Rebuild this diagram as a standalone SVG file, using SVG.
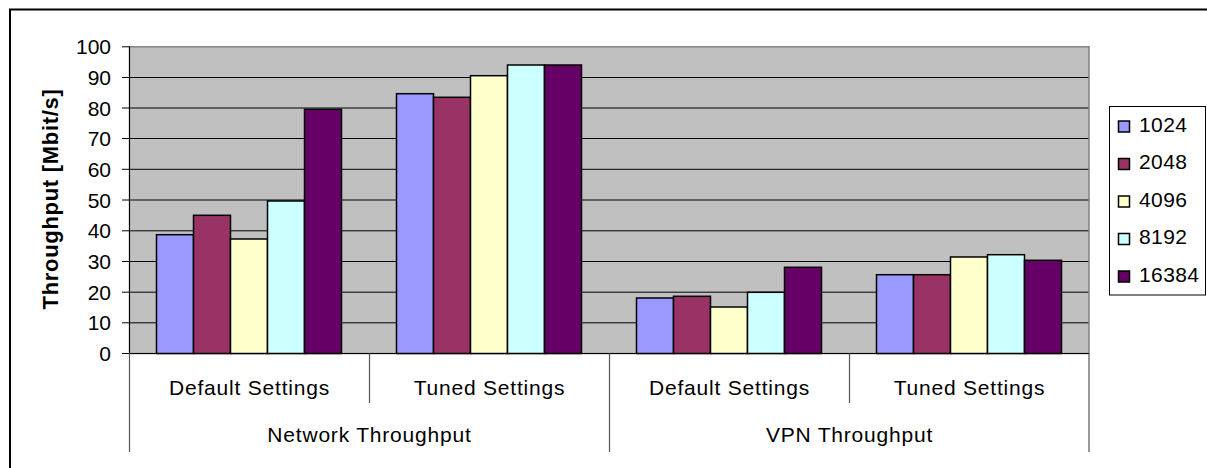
<svg xmlns="http://www.w3.org/2000/svg" width="1207" height="468" viewBox="0 0 1207 468">
<style>
text{font-family:"Liberation Sans",Arial,sans-serif;fill:#000}
.num{font-size:21px;text-anchor:end}
.cat{font-size:21px;text-anchor:middle;letter-spacing:0.8px}
.leg{font-size:21px;letter-spacing:0.4px}
.title{font-size:22px;font-weight:bold;text-anchor:middle;letter-spacing:0.7px}
.grid{stroke:#000;stroke-width:1}
.bar{stroke:#000;stroke-width:1.5}
.s1{fill:#9999FF}.s2{fill:#993366}.s3{fill:#FFFFCC}.s4{fill:#CCFFFF}.s5{fill:#660066}
.sep{stroke:#555;stroke-width:1.2}
</style>
<rect x="0" y="0" width="1207" height="468" fill="#fff"/>
<rect x="10" y="9.5" width="1210" height="480" fill="none" stroke="#000" stroke-width="2"/>
<g id="plot">
<rect x="129.5" y="46.8" width="959.5" height="306.7" fill="#C0C0C0"/>
<g class="grid">
<line x1="129.5" y1="77.5" x2="1089" y2="77.5"/>
<line x1="129.5" y1="108" x2="1089" y2="108"/>
<line x1="129.5" y1="138.5" x2="1089" y2="138.5"/>
<line x1="129.5" y1="169.3" x2="1089" y2="169.3"/>
<line x1="129.5" y1="200" x2="1089" y2="200"/>
<line x1="129.5" y1="230.8" x2="1089" y2="230.8"/>
<line x1="129.5" y1="261.5" x2="1089" y2="261.5"/>
<line x1="129.5" y1="292.2" x2="1089" y2="292.2"/>
<line x1="129.5" y1="322.8" x2="1089" y2="322.8"/>
</g>
<rect x="129.5" y="46.8" width="959.5" height="306.7" fill="none" stroke="#808080" stroke-width="1.5"/>
</g>
<g id="bars">
<rect class="bar s1" x="156.5" y="234.7" width="37" height="118.8"/>
<rect class="bar s2" x="193.5" y="215.3" width="37" height="138.2"/>
<rect class="bar s3" x="230.5" y="239" width="37" height="114.5"/>
<rect class="bar s4" x="267.5" y="201" width="37" height="152.5"/>
<rect class="bar s5" x="304.5" y="109.3" width="37" height="244.2"/>
<rect class="bar s1" x="396.5" y="93.7" width="37" height="259.8"/>
<rect class="bar s2" x="433.5" y="97.3" width="37" height="256.2"/>
<rect class="bar s3" x="470.5" y="75.7" width="37" height="277.8"/>
<rect class="bar s4" x="507.5" y="65" width="37" height="288.5"/>
<rect class="bar s5" x="544.5" y="65" width="37" height="288.5"/>
<rect class="bar s1" x="636.5" y="298" width="37" height="55.5"/>
<rect class="bar s2" x="673.5" y="296.3" width="37" height="57.2"/>
<rect class="bar s3" x="710.5" y="307" width="37" height="46.5"/>
<rect class="bar s4" x="747.5" y="292.3" width="37" height="61.2"/>
<rect class="bar s5" x="784.5" y="267.3" width="37" height="86.2"/>
<rect class="bar s1" x="876.5" y="274.7" width="37" height="78.8"/>
<rect class="bar s2" x="913.5" y="274.7" width="37" height="78.8"/>
<rect class="bar s3" x="950.5" y="257" width="37" height="96.5"/>
<rect class="bar s4" x="987.5" y="254.7" width="37" height="98.8"/>
<rect class="bar s5" x="1024.5" y="260.3" width="37" height="93.2"/>
</g>
<g id="y-axis">
<line x1="129.5" y1="46.8" x2="129.5" y2="353.5" stroke="#000" stroke-width="1"/>
<g class="grid">
<line x1="122" y1="46.8" x2="129.5" y2="46.8"/>
<line x1="122" y1="77.5" x2="129.5" y2="77.5"/>
<line x1="122" y1="108" x2="129.5" y2="108"/>
<line x1="122" y1="138.5" x2="129.5" y2="138.5"/>
<line x1="122" y1="169.3" x2="129.5" y2="169.3"/>
<line x1="122" y1="200" x2="129.5" y2="200"/>
<line x1="122" y1="230.8" x2="129.5" y2="230.8"/>
<line x1="122" y1="261.5" x2="129.5" y2="261.5"/>
<line x1="122" y1="292.2" x2="129.5" y2="292.2"/>
<line x1="122" y1="322.8" x2="129.5" y2="322.8"/>
<line x1="122" y1="353.5" x2="129.5" y2="353.5"/>
</g>
<text class="num" x="111" y="54.3">100</text>
<text class="num" x="111" y="85">90</text>
<text class="num" x="111" y="115.5">80</text>
<text class="num" x="111" y="146">70</text>
<text class="num" x="111" y="176.8">60</text>
<text class="num" x="111" y="207.5">50</text>
<text class="num" x="111" y="238.3">40</text>
<text class="num" x="111" y="269">30</text>
<text class="num" x="111" y="299.7">20</text>
<text class="num" x="111" y="330.3">10</text>
<text class="num" x="111" y="361">0</text>
<text class="title" transform="translate(58,199) rotate(-90)">Throughput [Mbit/s]</text>
</g>
<g id="x-axis">
<line x1="129.5" y1="353.5" x2="1089" y2="353.5" stroke="#000" stroke-width="1"/>
<line class="sep" x1="129.5" y1="353.5" x2="129.5" y2="452"/>
<line class="sep" x1="369.5" y1="353.5" x2="369.5" y2="403"/>
<line class="sep" x1="609.5" y1="353.5" x2="609.5" y2="452"/>
<line class="sep" x1="849.5" y1="353.5" x2="849.5" y2="403"/>
<line class="sep" x1="1089" y1="353.5" x2="1089" y2="452"/>
<text class="cat" x="249.5" y="395">Default Settings</text>
<text class="cat" x="489.5" y="395">Tuned Settings</text>
<text class="cat" x="729.5" y="395">Default Settings</text>
<text class="cat" x="969.5" y="395">Tuned Settings</text>
<text class="cat" x="369.5" y="442">Network Throughput</text>
<text class="cat" x="849.5" y="442">VPN Throughput</text>
</g>
<g id="legend">
<rect x="1109.5" y="106.5" width="96" height="188.5" fill="#fff" stroke="#000" stroke-width="1"/>
<rect class="bar s1" x="1118.5" y="121" width="11" height="11" stroke-width="1.2"/>
<rect class="bar s2" x="1118.5" y="158.5" width="11" height="11" stroke-width="1.2"/>
<rect class="bar s3" x="1118.5" y="196" width="11" height="11" stroke-width="1.2"/>
<rect class="bar s4" x="1118.5" y="233.5" width="11" height="11" stroke-width="1.2"/>
<rect class="bar s5" x="1118.5" y="271" width="11" height="11" stroke-width="1.2"/>
<text class="leg" x="1139" y="131.7">1024</text>
<text class="leg" x="1139" y="169.2">2048</text>
<text class="leg" x="1139" y="206.7">4096</text>
<text class="leg" x="1139" y="244.2">8192</text>
<text class="leg" x="1139" y="281.7">16384</text>
</g>
</svg>
